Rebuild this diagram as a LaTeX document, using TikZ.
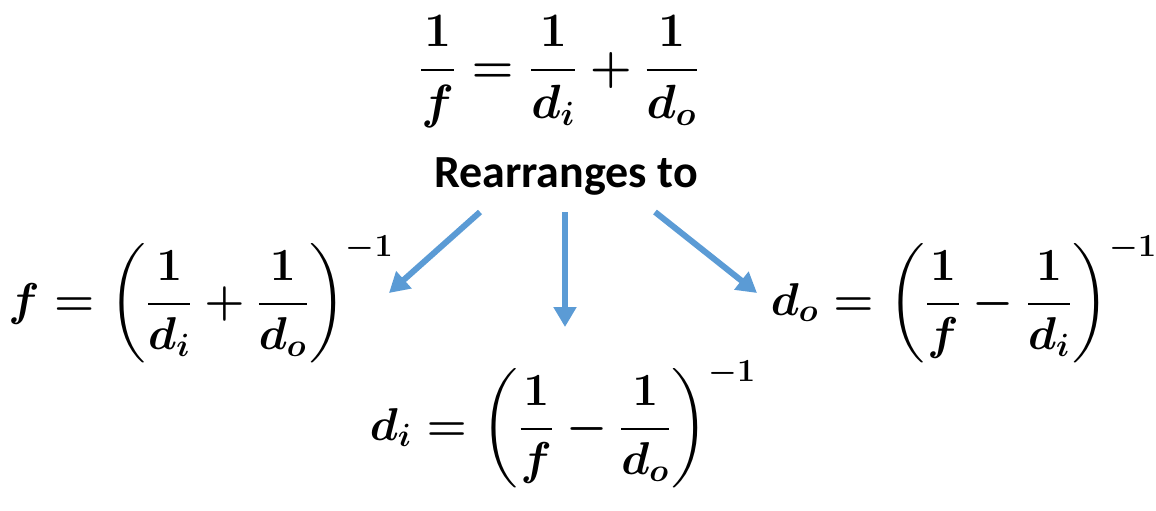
\RequirePackage{fix-cm}
\documentclass[tikz,border=0pt]{standalone}
\usepackage{amsmath}
\usepackage{fontspec}
\usepackage{xcolor}
\usepackage{tikz}
\usetikzlibrary{arrows.meta}
\newfontfamily\calibri{Carlito}
\definecolor{arrowblue}{RGB}{91,155,213}
\tikzset{
	eqn/.style={inner sep=0pt,anchor=base,font=\fontsize{23}{28}\selectfont\boldmath},
	rearrow/.style={arrowblue,line width=3pt,-{Triangle[length=10pt,width=11pt]}}
}

\begin{document}
\begin{tikzpicture}[x=0.5pt,y=-0.5pt]
	\useasboundingbox (0,0) rectangle (1156,510);
	\node[eqn,font=\fontsize{24}{29}\selectfont\boldmath] (lens) at (559,82) {$\displaystyle\frac{1}{f}=\frac{1}{d_i}+\frac{1}{d_o}$};
	\node[inner sep=0pt,anchor=base,font=\calibri\bfseries\fontsize{23}{28}\selectfont] (rearr) at (566,187) {Rearranges to};
	
	\node[eqn] (feq) at (201,315) {$\displaystyle f=\left(\frac{1}{d_i}+\frac{1}{d_o}\right)^{-1}$};
	\node[eqn] (dieq) at (563,440) {$\displaystyle d_i=\left(\frac{1}{f}-\frac{1}{d_o}\right)^{-1}$};
	\node[eqn] (doeq) at (964,315) {$\displaystyle d_o=\left(\frac{1}{f}-\frac{1}{d_i}\right)^{-1}$};
	
	% arrow ends
	\coordinate (lstart) at (480,212);
	\coordinate (lend) at (389,293);
	\coordinate (mstart) at (565,212);
	\coordinate (mend) at (565,327);
	\coordinate (rstart) at (655,212);
	\coordinate (rend) at (757,293);
	
	\draw[rearrow] (lstart) -- (lend);
	\draw[rearrow] (mstart) -- (mend);
	\draw[rearrow] (rstart) -- (rend);
\end{tikzpicture}
\end{document}
